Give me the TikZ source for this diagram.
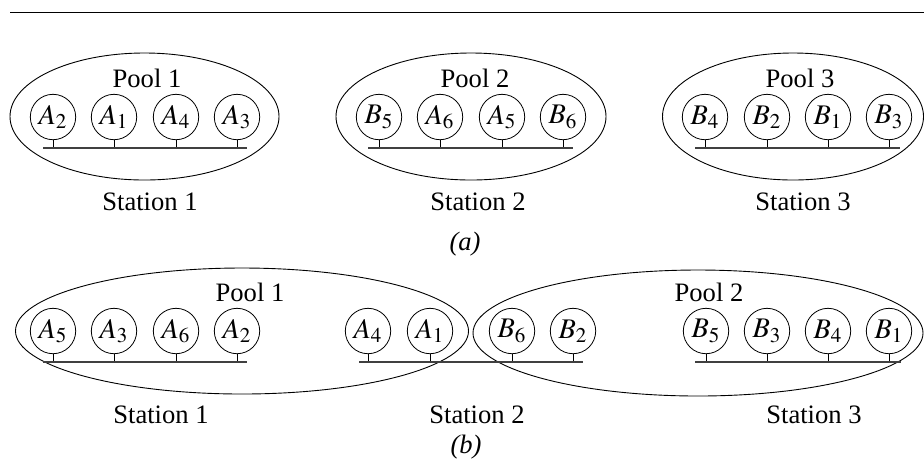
\documentclass[tikz,border=0pt]{standalone}
\usepackage{mathptmx}
\usepackage{fontspec}
\setmainfont{Liberation Serif}
\begin{document}
\begin{tikzpicture}[x=0.5pt,y=-0.5pt,
  font=\fontsize{13.3}{15}\selectfont,
  srv/.style={circle,draw,inner sep=0pt,minimum size=22.7pt,font=\fontsize{14.2}{16}\selectfont},
  pool/.style={draw,line width=0.45pt},
  bus/.style={draw=black!75,line width=0.75pt},
  tick/.style={draw,line width=0.45pt},
  lbl/.style={anchor=base,inner sep=0pt}]
\useasboundingbox (0,0) rectangle (924,468);
% top rule
\coordinate (rl) at (10,12);
\coordinate (rr) at (924,12);
\draw[line width=0.5pt] (rl) -- (rr);

% ---------------- (a) ----------------
\draw[pool] (144.5,116.5) ellipse [x radius=134.5, y radius=63.5];
\draw[pool] (471,116.5) ellipse [x radius=135, y radius=63.5];
\draw[pool] (793,116.5) ellipse [x radius=130.5, y radius=63.5];

\node[lbl] (p1a) at (147,87.5) {Pool 1};
\node[lbl] (p2a) at (475,87.5) {Pool 2};
\node[lbl] (p3a) at (800,87.5) {Pool 3};

\foreach \n/\x/\t in {a1/53/A_2, a2/114/A_1, a3/176/A_4, a4/237/A_3,
                      a5/379/B_5, a6/440/A_6, a7/502/A_5, a8/563/B_6,
                      a9/705/B_4, a10/767/B_2, a11/828/B_1, a12/889/B_3}
  {\node[srv] (\n) at (\x,117) {$\t$};
   \coordinate (\n b) at (\x,148);
   \draw[tick] (\n.south) -- (\n b);}

\coordinate (bus1l) at (43,148);  \coordinate (bus1r) at (247,148);
\coordinate (bus2l) at (368,148); \coordinate (bus2r) at (573,148);
\coordinate (bus3l) at (695,148); \coordinate (bus3r) at (900,148);
\draw[bus] (bus1l) -- (bus1r);
\draw[bus] (bus2l) -- (bus2r);
\draw[bus] (bus3l) -- (bus3r);

\node[lbl] (s1a) at (150,210) {Station 1};
\node[lbl] (s2a) at (478,210) {Station 2};
\node[lbl] (s3a) at (803,210) {Station 3};
\node[lbl] (capa) at (465,250) {\itshape (a)};

% ---------------- (b) ----------------
\draw[pool] (242,331) ellipse [x radius=226.5, y radius=63];
\draw[pool] (698,333) ellipse [x radius=225, y radius=63];

\node[lbl] (p1b) at (250,301.5) {Pool 1};
\node[lbl] (p2b) at (709,301.5) {Pool 2};

\foreach \n/\x/\t in {b1/53/A_5, b2/114/A_3, b3/176/A_6, b4/237/A_2,
                      b5/368/A_4, b6/430/A_1, b7/512/B_6, b8/573/B_2,
                      b9/706/B_5, b10/767/B_3, b11/828/B_4, b12/889/B_1}
  {\node[srv] (\n) at (\x,331) {$\t$};
   \coordinate (\n b) at (\x,362);
   \draw[tick] (\n.south) -- (\n b);}

\coordinate (cus1l) at (43,362);  \coordinate (cus1r) at (247,362);
\coordinate (cus2l) at (359,362); \coordinate (cus2r) at (583,362);
\coordinate (cus3l) at (695,362); \coordinate (cus3r) at (901,362);
\draw[bus] (cus1l) -- (cus1r);
\draw[bus] (cus2l) -- (cus2r);
\draw[bus] (cus3l) -- (cus3r);

\node[lbl] (s1b) at (161,423.5) {Station 1};
\node[lbl] (s2b) at (477,423.5) {Station 2};
\node[lbl] (s3b) at (814,423.5) {Station 3};
\node[lbl] (capb) at (466,453) {\itshape (b)};
\end{tikzpicture}
\end{document}
